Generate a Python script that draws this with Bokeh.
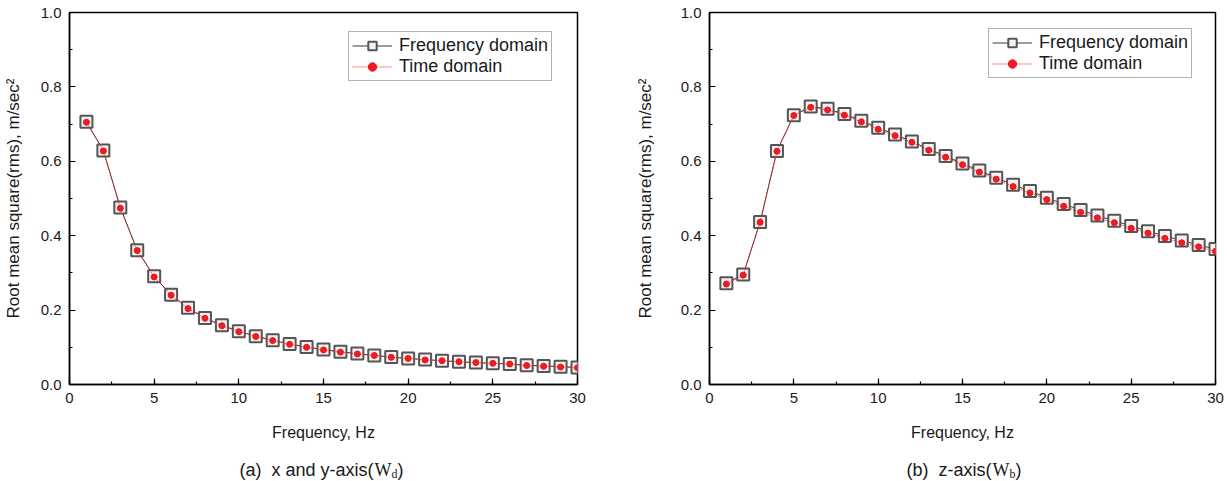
from bokeh.plotting import figure
from bokeh.layouts import row, column
from bokeh.models import (Range1d, SingleIntervalTicker, PrintfTickFormatter,
                          Legend, LegendItem)
from bokeh.core.properties import value
from bokeh.embed import file_html
from bokeh.resources import INLINE

# Frequency axis (Hz)
freq = list(range(1, 31))

# (a) x and y-axis, W_d weighting: rms acceleration, m/s^2
wd_freq_domain = [0.706, 0.629, 0.476, 0.361, 0.291, 0.241, 0.206, 0.179, 0.159, 0.143,
                  0.130, 0.119, 0.109, 0.101, 0.094, 0.088, 0.083, 0.078, 0.074, 0.070,
                  0.067, 0.064, 0.061, 0.059, 0.057, 0.055, 0.052, 0.050, 0.048, 0.046]
wd_time_domain = [0.705, 0.628, 0.474, 0.360, 0.289, 0.240, 0.204, 0.178, 0.158, 0.142,
                  0.129, 0.118, 0.108, 0.100, 0.093, 0.087, 0.082, 0.078, 0.073, 0.070,
                  0.066, 0.064, 0.061, 0.059, 0.057, 0.055, 0.051, 0.049, 0.047, 0.045]

# (b) z-axis, W_b weighting
wb_freq_domain = [0.272, 0.296, 0.437, 0.628, 0.724, 0.747, 0.741, 0.727, 0.709, 0.690,
                  0.672, 0.653, 0.633, 0.614, 0.594, 0.575, 0.556, 0.537, 0.520, 0.502,
                  0.485, 0.469, 0.454, 0.440, 0.426, 0.412, 0.399, 0.387, 0.375, 0.364]
wb_time_domain = [0.270, 0.294, 0.436, 0.627, 0.723, 0.745, 0.738, 0.724, 0.706, 0.686,
                  0.669, 0.651, 0.630, 0.611, 0.591, 0.571, 0.552, 0.532, 0.515, 0.497,
                  0.479, 0.463, 0.448, 0.435, 0.420, 0.407, 0.393, 0.381, 0.370, 0.358]

series_names = ["Frequency domain", "Time domain"]
x_label = "Frequency, Hz"
y_label = "Root mean square(rms), m/sec\u00b2"

SANS = "Liberation Sans"
SERIF = "Liberation Serif"
TXT = "#1a1a1a"


def make_panel(width, border_left, border_right, y_standoff, fd, td, legend_loc):
    p = figure(width=width, height=448, output_backend="svg", toolbar_location=None,
               x_range=Range1d(0, 30), y_range=Range1d(0, 1),
               min_border_left=border_left, min_border_right=border_right,
               min_border_top=12, min_border_bottom=64)
    p.grid.visible = False
    p.background_fill_color = "white"
    p.border_fill_color = "white"
    p.outline_line_color = "black"
    p.outline_line_width = 1.5

    p.xaxis.ticker = SingleIntervalTicker(interval=5, num_minor_ticks=2)
    p.yaxis.ticker = SingleIntervalTicker(interval=0.2, num_minor_ticks=2)
    p.xaxis.formatter = PrintfTickFormatter(format="%d")
    p.yaxis.formatter = PrintfTickFormatter(format="%.1f")
    for ax in (p.xaxis[0], p.yaxis[0]):
        ax.axis_line_width = 1.5
        ax.axis_line_color = "black"
        ax.major_tick_in = 6
        ax.major_tick_out = 0
        ax.minor_tick_in = 3
        ax.minor_tick_out = 0
        ax.major_tick_line_width = 1.2
        ax.minor_tick_line_width = 1.2
        ax.major_label_text_font = SANS
        ax.major_label_text_font_size = "15px"
        ax.major_label_text_color = TXT
        ax.axis_label_text_font = SANS
        ax.axis_label_text_font_style = "normal"
        ax.axis_label_text_color = TXT
    p.xaxis.major_label_standoff = 8
    p.yaxis.major_label_standoff = 8
    p.xaxis.axis_label = x_label
    p.xaxis.axis_label_text_font_size = "16px"
    p.xaxis.axis_label_standoff = 18
    p.yaxis.axis_label = y_label
    p.yaxis.axis_label_text_font_size = "17px"
    p.yaxis.axis_label_standoff = y_standoff

    # frequency-domain result: dark line with hollow squares
    fd_line = p.line(freq, fd, line_color="#3a3a3a", line_width=1)
    fd_mark = p.scatter(freq, fd, marker="square", size=12, line_color="#555555",
                        line_width=2, fill_color="#f2f2f2")
    # time-domain result: red dotted line with solid dots
    td_line = p.line(freq, td, line_color="#ff2020", line_width=1, line_dash="1 1")
    td_mark = p.scatter(freq, td, marker="circle", size=6, line_color="#e8141c",
                        fill_color="#f01c22")

    legend = Legend(items=[LegendItem(label=series_names[0], renderers=[fd_line, fd_mark]),
                           LegendItem(label=series_names[1], renderers=[td_line, td_mark])],
                    location=legend_loc)
    legend.label_text_font = SANS
    legend.label_text_font_size = "18px"
    legend.label_text_color = TXT
    legend.label_height = 21
    legend.glyph_height = 21
    legend.glyph_width = 40
    legend.label_standoff = 7
    legend.padding = 3
    legend.spacing = 0
    legend.margin = 0
    legend.border_line_color = "#666666"
    legend.border_line_width = 1.2
    legend.background_fill_alpha = 1
    p.add_layout(legend, "center")
    return p


def make_caption(width, head, letter, x_join):
    # strip beneath a panel: sans lead-in ending at x_join, then serif W with subscript
    c = figure(width=width, height=33, output_backend="svg", toolbar_location=None,
               x_range=Range1d(0, width), y_range=Range1d(0, 33),
               min_border=0, outline_line_color=None)
    c.axis.visible = False
    c.grid.visible = False
    base = 12
    c.text(x=[x_join], y=[base], text=[head], text_font=value(SANS),
           text_font_size="18px", text_color=TXT, text_baseline="alphabetic",
           text_align="right")
    c.text(x=[x_join + 1], y=[base], text=["W"], text_font=value(SERIF),
           text_font_size="18px", text_color=TXT, text_baseline="alphabetic",
           text_align="left")
    c.text(x=[x_join + 18], y=[base - 4], text=[letter], text_font=value(SERIF),
           text_font_size="12px", text_color=TXT, text_baseline="alphabetic",
           text_align="left")
    c.text(x=[x_join + 24], y=[base], text=[")"], text_font=value(SANS),
           text_font_size="18px", text_color=TXT, text_baseline="alphabetic",
           text_align="left")
    return c


left = make_panel(613, 69, 36, 15, wd_freq_domain, wd_time_domain, (279, 303))
right = make_panel(614, 96, 12, 23, wb_freq_domain, wb_time_domain, (279, 306))
cap_left = make_caption(613, "(a)\u00a0 x and y-axis(", "d", 373)
cap_right = make_caption(614, "(b)\u00a0 z-axis(", "b", 378)

layout = column(row(left, right), row(cap_left, cap_right))
open("out.html", "w").write(file_html(layout, INLINE))
